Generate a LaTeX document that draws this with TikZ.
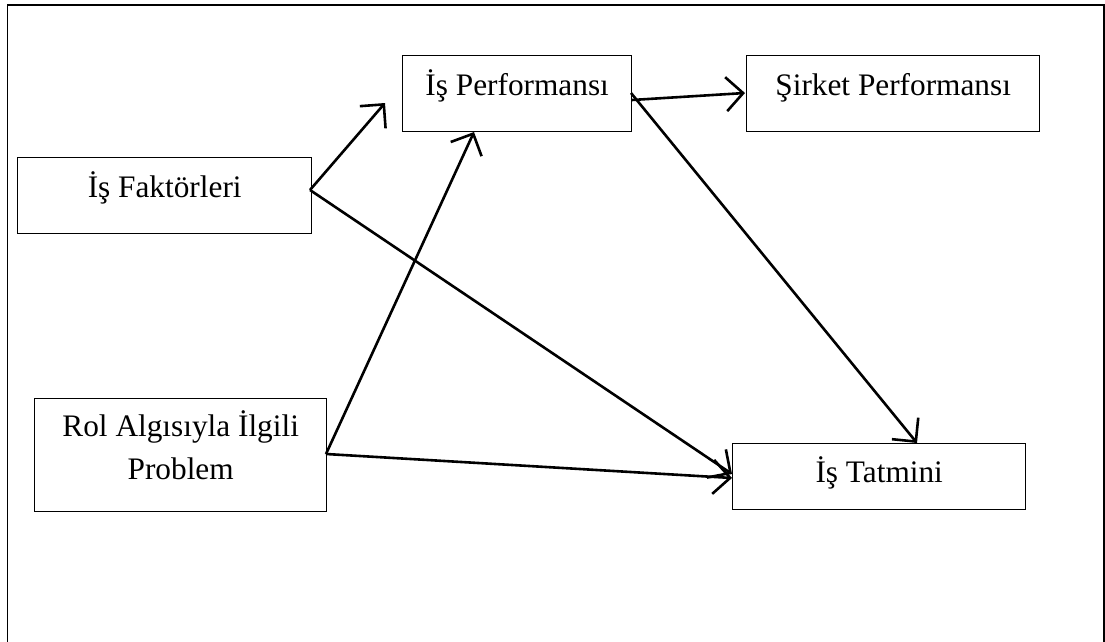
\documentclass[tikz,border=0pt]{standalone}
\usepackage{fontspec}
\setmainfont{Liberation Serif}
\usetikzlibrary{arrows.meta}
\begin{document}
\begin{tikzpicture}[x=1pt,y=-1pt,
  box/.style={draw=black, line width=1.4pt, rectangle, inner sep=0pt, anchor=north west,
    font=\fontsize{31.3}{43}\selectfont, align=center},
  conn/.style={line width=2.6pt, -{Straight Barb[length=17pt,width=34pt]}}]
\useasboundingbox (0,0) rectangle (1105,642);
\fill[white] (0,0) rectangle (1105,642);
\draw[line width=1.6pt] (7.5,642) -- (7.5,5) -- (1104,5) -- (1104,642);

\node[box, minimum width=294pt, minimum height=76pt, text height=22pt, text depth=18pt] (fak) at (17,157) {İş Faktörleri};
\node[box, minimum width=229pt, minimum height=76pt, text height=22pt, text depth=18pt] (perf) at (402,55) {İş Performansı};
\node[box, minimum width=293pt, minimum height=76pt, text height=21pt, text depth=18pt] (sir) at (746,55) {Şirket Performansı};
\node[box, minimum width=292pt, minimum height=113pt, text height=68pt, text depth=19pt] (rol) at (34,398) {Rol Algısıyla İlgili\\Problem};
\node[box, minimum width=293pt, minimum height=66pt, text height=24pt, text depth=12pt] (tat) at (732,443) {İş Tatmini};

\coordinate (fakout) at (310,190);
\coordinate (rolout) at (326,454);
\coordinate (perfoutA) at (632,100);
\coordinate (perfoutB) at (631,93);
\coordinate (perfin) at (385,103);
\coordinate (perfbot) at (474,132);
\coordinate (tatinA) at (732,474);
\coordinate (tatinB) at (732,478);
\coordinate (tattop) at (917,443);
\coordinate (sirin) at (745,93);

\draw[conn] (fakout) -- (perfin);
\draw[conn] (fakout) -- (tatinA);
\draw[conn] (rolout) -- (perfbot);
\draw[conn] (rolout) -- (tatinB);
\draw[conn] (perfoutA) -- (sirin);
\draw[conn] (perfoutB) -- (tattop);
\end{tikzpicture}
\end{document}
